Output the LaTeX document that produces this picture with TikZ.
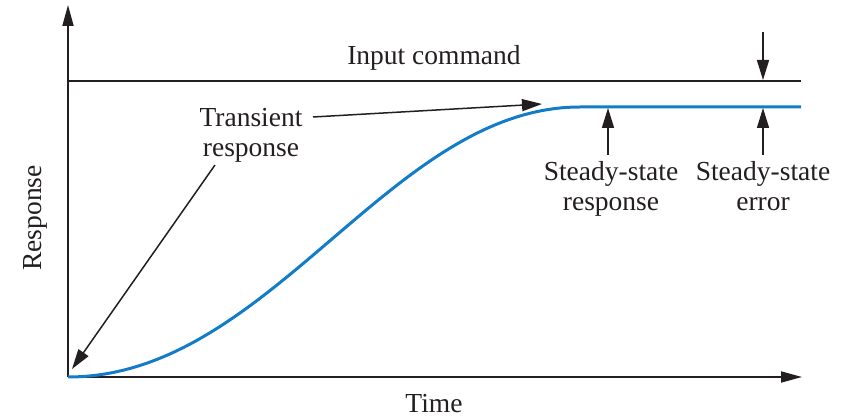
\documentclass[tikz,border=0pt]{standalone}
\usepackage{fontspec}
\setmainfont{Liberation Serif}
\usetikzlibrary{arrows.meta}
\definecolor{inkdark}{RGB}{35,31,32}
\definecolor{respblue}{RGB}{18,124,200}
\begin{document}
\begin{tikzpicture}[x=1pt,y=-1pt,
  axisline/.style={draw=inkdark, line width=1.8pt, -{Triangle[length=21pt,width=11pt]}},
  pointer/.style={draw=inkdark, line width=1.5pt, -{Triangle[length=20pt,width=12pt]}},
  plainline/.style={draw=inkdark, line width=1.8pt},
  curve/.style={draw=respblue, line width=3pt},
  lbl/.style={font=\fontsize{27.5}{30}\selectfont, inner sep=0pt, align=center, text=inkdark},
  ]
\useasboundingbox (0,0) rectangle (844,419);

% axes
\coordinate (origin) at (68,377);
\coordinate (ytop) at (68,5);
\coordinate (xend) at (802,377);
\draw[axisline] (origin) -- (ytop);
\draw[axisline] (origin) -- (xend);

% input command level
\coordinate (cmdL) at (68,81);
\coordinate (cmdR) at (801,81);
\draw[plainline] (cmdL) -- (cmdR);

% response curve: S-shaped rise, then steady value
\coordinate (settle) at (580,107);
\coordinate (respR) at (801,107);
\draw[curve] (origin) .. controls (270,377) and (390,107) .. (settle) -- (respR);

% labels
\node[lbl, anchor=base] (cmdtxt) at (434,65) {Input command};
\node[lbl, anchor=base] (timetxt) at (434,413) {Time};
\node[lbl, anchor=base, rotate=90] (resptxt) at (41,218) {Response};
\node[lbl, anchor=north] (trans) at (251,108) {Transient\\response};
\node[lbl, anchor=north] (ssresp) at (611,161) {Steady-state\\response};
\node[lbl, anchor=north] (sserr) at (763,161) {Steady-state\\error};

% pointers
\coordinate (transA) at (313,117);
\coordinate (transAtip) at (542,104);
\coordinate (transB) at (215,165);
\coordinate (transBtip) at (72,369);
\draw[pointer] (transA) -- (transAtip);
\draw[pointer] (transB) -- (transBtip);

\coordinate (errTop) at (763,32);
\coordinate (errTopTip) at (763,80);
\draw[pointer] (errTop) -- (errTopTip);

\coordinate (ssTail) at (608,155);
\coordinate (ssTip) at (608,108);
\draw[pointer] (ssTail) -- (ssTip);

\coordinate (errTail) at (763,155);
\coordinate (errTip) at (763,108);
\draw[pointer] (errTail) -- (errTip);
\end{tikzpicture}
\end{document}
